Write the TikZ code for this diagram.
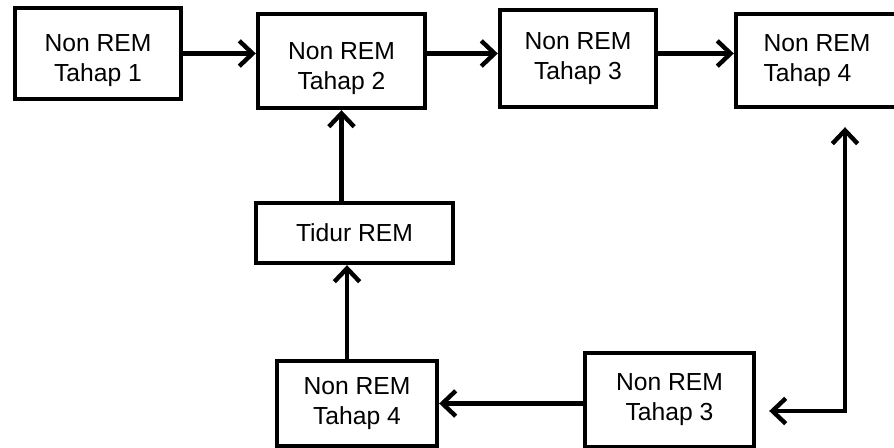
\documentclass[tikz,border=0pt]{standalone}
\usepackage{fontspec}
\setmainfont{Liberation Sans}
\usetikzlibrary{arrows.meta}
\newcommand{\lowline}{\rule{0pt}{24pt}}

\begin{document}
\begin{tikzpicture}[
  x=0.75pt,y=-0.75pt,
  stage/.style={draw,line width=3.3pt,inner sep=0pt,align=center,
    font=\fontsize{18.5}{22.5}\selectfont},
  flow/.style={line width=3.3pt,-{Straight Barb[length=10pt,width=19pt]}},
  twoway/.style={line width=3.3pt,{Straight Barb[length=10pt,width=19pt]}-{Straight Barb[length=10pt,width=19pt]}}
]
\useasboundingbox (0,0) rectangle (894,448);

% ---- top row ----
\node[stage,minimum width=124.5pt,minimum height=68.25pt] (nrem1) at (98,53.5) {\lowline Non REM\\Tahap 1};
\node[stage,minimum width=125.25pt,minimum height=70.5pt] (nrem2) at (341.5,61) {\lowline Non REM\\Tahap 2};
\node[stage,minimum width=117pt,minimum height=72.75pt] (nrem3) at (578,58.5) {Non REM\\Tahap 3};
\node[stage,align=left,minimum width=121.5pt,minimum height=69.75pt] (nrem4) at (817,60.5) {Non REM\\Tahap 4};

% ---- REM and bottom row ----
\node[stage,minimum width=147.75pt,minimum height=45pt] (rem) at (354.5,233) {Tidur REM};
\node[stage,minimum width=120pt,minimum height=63.75pt] (back4) at (357,403.5) {Non REM\\Tahap 4};
\node[stage,minimum width=126.75pt,minimum height=70.5pt] (back3) at (669.5,400) {Non REM\\Tahap 3};
\coordinate (turn) at (845,411);

% ---- connectors ----
\draw[flow] (nrem1.east) -- (nrem2.west |- nrem1.east);
\draw[flow] (nrem2.east |- nrem1.east) -- (nrem3.west |- nrem1.east);
\draw[flow] (nrem3.east |- nrem1.east) -- (nrem4.west |- nrem1.east);
\draw[twoway] ([yshift=-13.5pt]nrem4.south -| turn) -- (turn) -- ([xshift=9.75pt]back3.east |- turn);
\draw[flow] (back3.west |- back4.east) -- (back4.east);
\draw[flow] ([xshift=-7.5pt]back4.north) -- ([xshift=-7.5pt]back4.north |- rem.south);
\draw[flow] (rem.north -| nrem2.center) -- (nrem2.south);

\end{tikzpicture}
\end{document}
